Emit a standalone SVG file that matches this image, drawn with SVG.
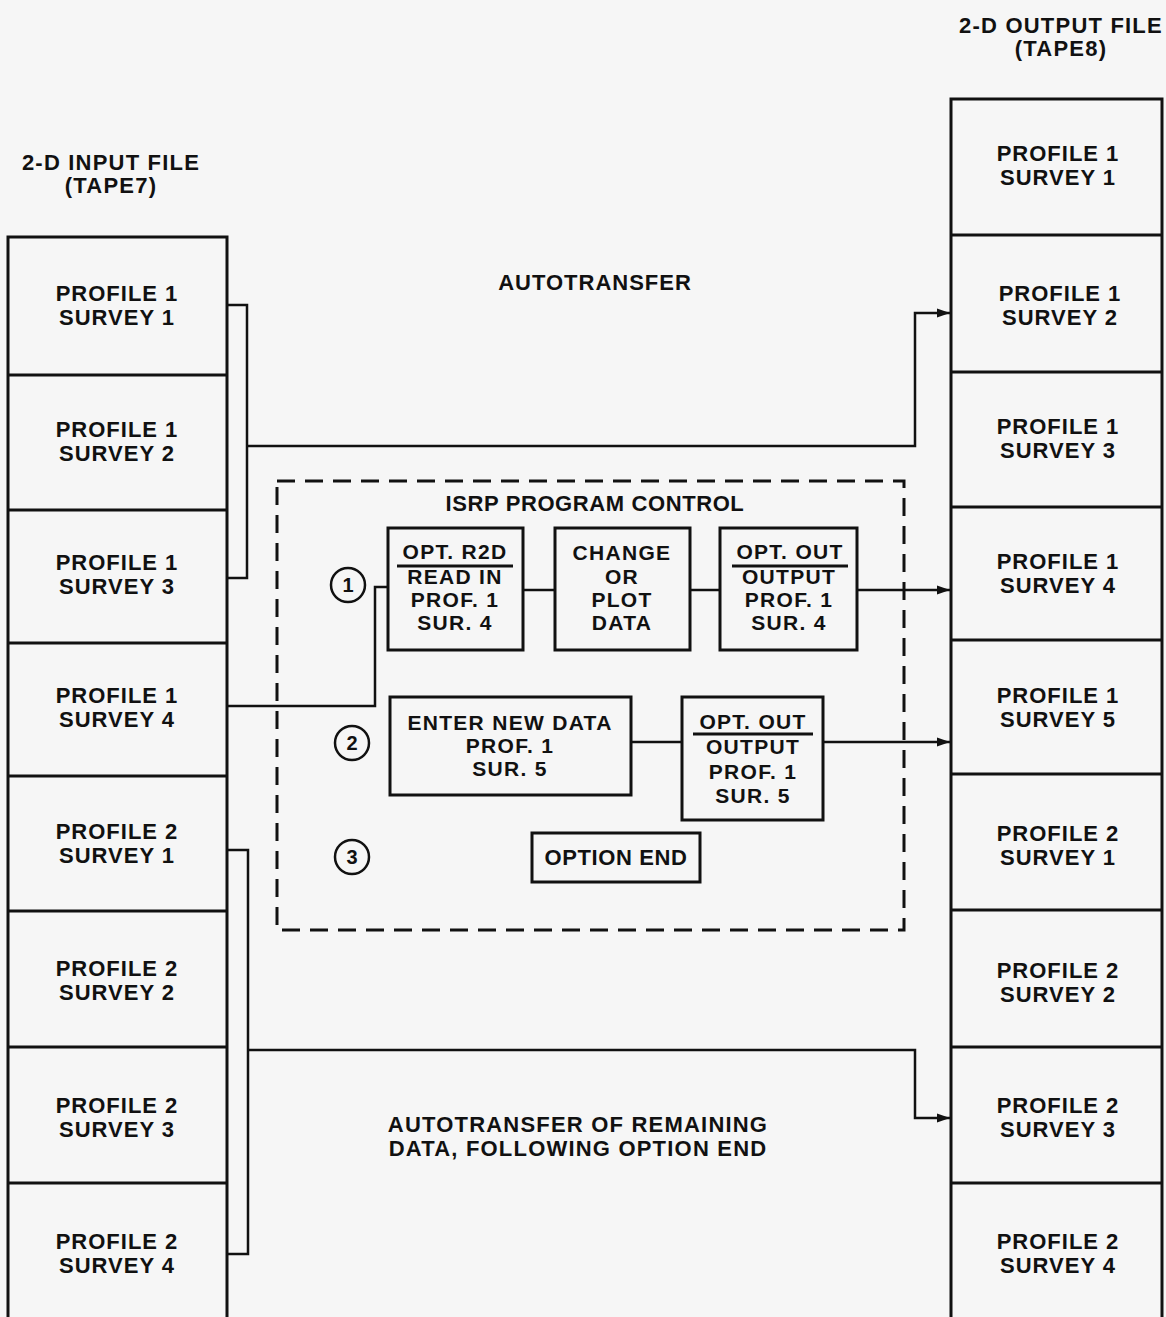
<svg xmlns="http://www.w3.org/2000/svg" width="1166" height="1317" viewBox="0 0 1166 1317">
<style>
  .bg{fill:#f6f6f6}
  .box{fill:none;stroke:#111;stroke-width:3}
  .ln{fill:none;stroke:#111;stroke-width:2.5}
  .dash{fill:none;stroke:#111;stroke-width:3;stroke-dasharray:18 10}
  .ul{stroke:#111;stroke-width:3}
  text{font-family:"Liberation Sans",Arial,sans-serif;font-weight:bold;font-size:21px;letter-spacing:1.3px;fill:#111;text-anchor:middle}
  .f{font-size:22px;letter-spacing:1px}
  .h{font-size:22px;letter-spacing:1.2px}
  .big{font-size:22px;letter-spacing:1.2px}
  .one{font-size:22px;letter-spacing:0.6px}
  .n{font-size:20px;letter-spacing:0}
</style>
<defs>
  <marker id="arr" markerUnits="userSpaceOnUse" markerWidth="14" markerHeight="10" refX="13" refY="5" orient="auto">
    <path d="M0,0.5 L13,5 L0,9.5 z" fill="#111"/>
  </marker>
</defs>
<rect class="bg" x="0" y="0" width="1166" height="1317"/>

<g id="input-title">
  <text class="h" x="111" y="170">2-D INPUT FILE</text>
  <text class="h" x="111" y="193">(TAPE7)</text>
</g>
<g id="output-title">
  <text class="h" x="1061" y="33">2-D OUTPUT FILE</text>
  <text class="h" x="1061" y="56">(TAPE8)</text>
</g>

<g id="input-file">
  <path class="box" d="M8,1320 V237 H227 V1320 M8,375 H227 M8,510 H227 M8,643 H227 M8,776 H227 M8,911 H227 M8,1047 H227 M8,1183 H227"/>
  <g id="in-p1s1"><text class="f" x="117" y="301">PROFILE 1</text><text class="f" x="117" y="325">SURVEY 1</text></g>
  <g id="in-p1s2"><text class="f" x="117" y="437">PROFILE 1</text><text class="f" x="117" y="461">SURVEY 2</text></g>
  <g id="in-p1s3"><text class="f" x="117" y="570">PROFILE 1</text><text class="f" x="117" y="594">SURVEY 3</text></g>
  <g id="in-p1s4"><text class="f" x="117" y="703">PROFILE 1</text><text class="f" x="117" y="727">SURVEY 4</text></g>
  <g id="in-p2s1"><text class="f" x="117" y="839">PROFILE 2</text><text class="f" x="117" y="863">SURVEY 1</text></g>
  <g id="in-p2s2"><text class="f" x="117" y="976">PROFILE 2</text><text class="f" x="117" y="1000">SURVEY 2</text></g>
  <g id="in-p2s3"><text class="f" x="117" y="1113">PROFILE 2</text><text class="f" x="117" y="1137">SURVEY 3</text></g>
  <g id="in-p2s4"><text class="f" x="117" y="1249">PROFILE 2</text><text class="f" x="117" y="1273">SURVEY 4</text></g>
</g>

<g id="output-file">
  <path class="box" d="M951,1320 V99 H1162 V1320 M951,235 H1162 M951,372 H1162 M951,507 H1162 M951,640 H1162 M951,774 H1162 M951,910 H1162 M951,1047 H1162 M951,1183 H1162"/>
  <g id="out-p1s1"><text class="f" x="1058" y="161">PROFILE 1</text><text class="f" x="1058" y="185">SURVEY 1</text></g>
  <g id="out-p1s2"><text class="f" x="1060" y="301">PROFILE 1</text><text class="f" x="1060" y="325">SURVEY 2</text></g>
  <g id="out-p1s3"><text class="f" x="1058" y="434">PROFILE 1</text><text class="f" x="1058" y="458">SURVEY 3</text></g>
  <g id="out-p1s4"><text class="f" x="1058" y="569">PROFILE 1</text><text class="f" x="1058" y="593">SURVEY 4</text></g>
  <g id="out-p1s5"><text class="f" x="1058" y="703">PROFILE 1</text><text class="f" x="1058" y="727">SURVEY 5</text></g>
  <g id="out-p2s1"><text class="f" x="1058" y="841">PROFILE 2</text><text class="f" x="1058" y="865">SURVEY 1</text></g>
  <g id="out-p2s2"><text class="f" x="1058" y="978">PROFILE 2</text><text class="f" x="1058" y="1002">SURVEY 2</text></g>
  <g id="out-p2s3"><text class="f" x="1058" y="1113">PROFILE 2</text><text class="f" x="1058" y="1137">SURVEY 3</text></g>
  <g id="out-p2s4"><text class="f" x="1058" y="1249">PROFILE 2</text><text class="f" x="1058" y="1273">SURVEY 4</text></g>
</g>

<g id="label-autotransfer"><text class="f" x="595" y="290">AUTOTRANSFER</text></g>
<g id="label-remaining">
  <text class="big" x="578" y="1132">AUTOTRANSFER OF REMAINING</text>
  <text class="big" x="578" y="1156">DATA, FOLLOWING OPTION END</text>
</g>

<g id="isrp-control">
  <rect class="dash" x="277" y="481" width="627" height="449"/>
  <text class="one" x="595" y="511">ISRP PROGRAM CONTROL</text>
</g>

<g id="step1">
  <circle class="ln" cx="348" cy="585" r="17"/>
  <text class="n" x="348" y="592">1</text>
</g>
<g id="step2">
  <circle class="ln" cx="352" cy="743" r="17"/>
  <text class="n" x="352" y="750">2</text>
</g>
<g id="step3">
  <circle class="ln" cx="352" cy="857" r="17"/>
  <text class="n" x="352" y="864">3</text>
</g>

<g id="opt-r2d">
  <rect class="box" x="388" y="528" width="135" height="122"/>
  <text x="455" y="559">OPT. R2D</text>
  <line class="ul" x1="397" y1="566" x2="513" y2="566"/>
  <text x="455" y="584">READ IN</text>
  <text x="455" y="607">PROF. 1</text>
  <text x="455" y="630">SUR. 4</text>
</g>
<g id="change-plot">
  <rect class="box" x="555" y="528" width="135" height="122"/>
  <text x="622" y="560">CHANGE</text>
  <text x="622" y="584">OR</text>
  <text x="622" y="607">PLOT</text>
  <text x="622" y="630">DATA</text>
</g>
<g id="opt-out-1">
  <rect class="box" x="720" y="528" width="137" height="122"/>
  <text x="790" y="559">OPT. OUT</text>
  <line class="ul" x1="732" y1="566" x2="848" y2="566"/>
  <text x="789" y="584">OUTPUT</text>
  <text x="789" y="607">PROF. 1</text>
  <text x="789" y="630">SUR. 4</text>
</g>
<g id="enter-new-data">
  <rect class="box" x="390" y="697" width="241" height="98"/>
  <text x="510" y="730">ENTER NEW DATA</text>
  <text x="510" y="753">PROF. 1</text>
  <text x="510" y="776">SUR. 5</text>
</g>
<g id="opt-out-2">
  <rect class="box" x="682" y="697" width="141" height="123"/>
  <text x="753" y="729">OPT. OUT</text>
  <line class="ul" x1="693" y1="734" x2="813" y2="734"/>
  <text x="753" y="754">OUTPUT</text>
  <text x="753" y="779">PROF. 1</text>
  <text x="753" y="803">SUR. 5</text>
</g>
<g id="option-end">
  <rect class="box" x="532" y="833" width="168" height="49"/>
  <text class="one" x="616" y="865">OPTION END</text>
</g>

<g id="connectors">
  <path class="ln" d="M227,305 H247 V578 H227"/>
  <path class="ln" d="M247,446 H915 V313 H950" marker-end="url(#arr)"/>
  <path class="ln" d="M227,706 H375 V587 H388"/>
  <path class="ln" d="M523,590 H555"/>
  <path class="ln" d="M690,590 H720"/>
  <path class="ln" d="M857,590 H950" marker-end="url(#arr)"/>
  <path class="ln" d="M631,742 H682"/>
  <path class="ln" d="M823,742 H950" marker-end="url(#arr)"/>
  <path class="ln" d="M227,850 H248 V1254 H227"/>
  <path class="ln" d="M248,1050 H915 V1118 H950" marker-end="url(#arr)"/>
</g>
</svg>
